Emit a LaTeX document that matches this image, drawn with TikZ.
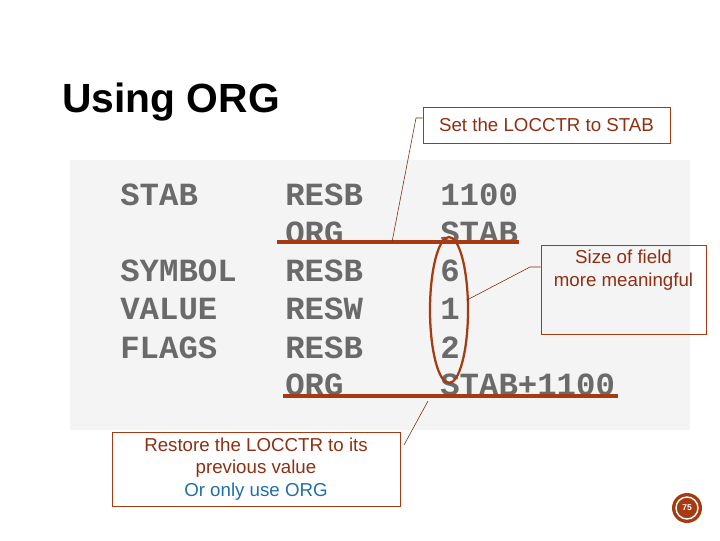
\documentclass[tikz,border=0pt]{standalone}
\usepackage{fontspec}
\setmainfont{Liberation Sans}
\setmonofont{Liberation Mono}
\usetikzlibrary{positioning}
\definecolor{rust}{HTML}{A63A12}
\definecolor{boxtext}{HTML}{8E2F12}
\definecolor{orgblue}{HTML}{1F6FA8}
\definecolor{scan}{HTML}{F4F4F4}
\definecolor{codegray}{HTML}{6A6A6A}
\tikzset{
  code/.style={anchor=west, text=codegray, font=\ttfamily\bfseries\fontsize{23}{23}\selectfont, inner sep=0pt},
  callout/.style={draw=rust, line width=0.6pt, text=boxtext, font=\fontsize{13.3}{16}\selectfont, align=center},
  leader/.style={draw=rust!70!black, line width=0.4pt},
  mark line/.style={draw=rust, line width=2.2pt}
}
\begin{document}
\begin{tikzpicture}[x=0.025cm, y=-0.025cm]
  \useasboundingbox (0,0) rectangle (720,540);

  % Title
  \node[anchor=west, inner sep=0pt, font=\bfseries\fontsize{29}{29}\selectfont] (title) at (62,102) {Using ORG};

  % Scanned listing
  \fill[scan] (70,160) rectangle (690,430);
  \node[code] (l1) at (120,195) {STAB};
  \node[code] (o1) at (285,195) {RESB};
  \node[code] (v1) at (440,195) {1100};
  \node[code] (o2) at (285,233) {ORG};
  \node[code] (v2) at (440,233) {STAB};
  \node[code] (l3) at (120,271) {SYMBOL};
  \node[code] (o3) at (285,271) {RESB};
  \node[code] (v3) at (440,271) {6};
  \node[code] (l4) at (120,309) {VALUE};
  \node[code] (o4) at (285,309) {RESW};
  \node[code] (v4) at (440,309) {1};
  \node[code] (l5) at (120,348) {FLAGS};
  \node[code] (o5) at (285,348) {RESB};
  \node[code] (v5) at (440,348) {2};
  \node[code] (o6) at (285,385) {ORG};
  \node[code] (v6) at (440,385) {STAB+1100};

  % Highlights
  \coordinate (u1a) at (277,242); \coordinate (u1b) at (519,242);
  \coordinate (u2a) at (283,396); \coordinate (u2b) at (618,396);
  \draw[mark line] (u1a) -- (u1b);
  \draw[mark line] (u2a) -- (u2b);
  \draw[rust, line width=1.6pt] (449,310) ellipse (19 and 73);

  % Callouts
  \node[callout, minimum width=247*0.025cm, minimum height=36*0.025cm] (set) at (546.5,125) {Set the LOCCTR to STAB};
  \node[callout, minimum width=165*0.025cm, minimum height=80*0.025cm, text depth=1.1cm] (size) at (623.5,290) {Size of field\\more meaningful};
  \node[callout, minimum width=288*0.025cm, minimum height=74*0.025cm] (restore) at (256,469) {Restore the LOCCTR to its\\previous value\\\textcolor{orgblue}{Or only use ORG}};

  % Leaders
  \coordinate (c1) at (416,118); \coordinate (c2) at (392,242);
  \draw[leader] (set.west |- c1) -- (c1) -- (c2);
  \coordinate (c3) at (530,267); \coordinate (c4) at (467,300);
  \draw[leader] (size.west |- c3) -- (c3) -- (c4);
  \coordinate (c5) at (404,445); \coordinate (c6) at (428,401);
  \draw[leader] (c5) -- (c6);

  % Page number
  \fill[rust] (687,508) circle (15);
  \draw[white, line width=1pt] (687,508) circle (11);
  \node[text=white, font=\bfseries\fontsize{6}{6}\selectfont] (page) at (687,508) {75};
\end{tikzpicture}
\end{document}
